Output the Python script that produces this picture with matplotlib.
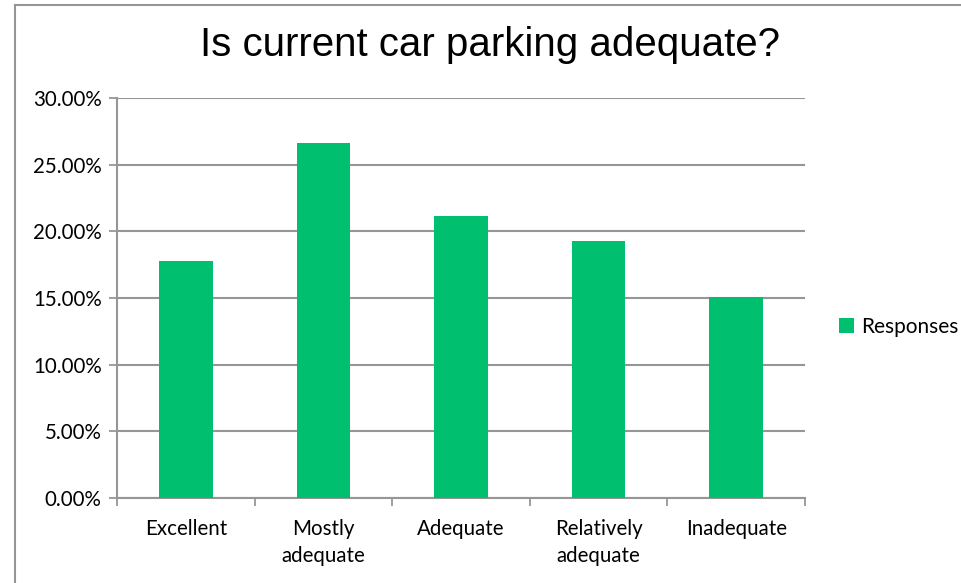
import matplotlib
matplotlib.use("Agg")
import matplotlib.pyplot as plt
from matplotlib.lines import Line2D
from matplotlib.ticker import FuncFormatter

# Survey data
categories = ["Excellent", "Mostly\nadequate", "Adequate", "Relatively\nadequate", "Inadequate"]
responses = [17.75, 26.6, 21.15, 19.3, 15.05]
series_name = "Responses"

bar_color = "#00BF6F"
grid_color = "#969696"

plt.rcParams['font.family'] = ['Lato', 'DejaVu Sans']

fig = plt.figure(figsize=(9.61, 5.83), dpi=100)
ax = fig.add_axes([0.1217, 0.1458, 0.716, 0.686])

x = range(len(categories))
ax.bar(x, responses, width=0.39, color=bar_color, label=series_name, zorder=3)

ax.set_xlim(-0.5, len(categories) - 0.5)
ax.set_ylim(0, 30)
ax.set_yticks([0, 5, 10, 15, 20, 25, 30])
ax.yaxis.set_major_formatter(FuncFormatter(lambda v, p: f"{v:.2f}%"))
ax.yaxis.grid(True, color=grid_color, linewidth=1.5, zorder=0)

ax.set_xticks(list(x))
ax.set_xticklabels(categories, fontsize=14.8, linespacing=1.45)
ax.set_xticks([i - 0.5 for i in range(len(categories) + 1)], minor=True)
ax.tick_params(axis='x', which='major', length=0, pad=15)
ax.tick_params(axis='x', which='minor', length=6, width=1.3, color=grid_color)
ax.tick_params(axis='y', length=6, width=1.3, color=grid_color, labelsize=14.8, pad=5)

for side in ['top', 'right']:
    ax.spines[side].set_visible(False)
for side in ['left', 'bottom']:
    ax.spines[side].set_color(grid_color)
    ax.spines[side].set_linewidth(1.5)

fig.text(0.51, 0.923, "Is current car parking adequate?", ha='center', va='center',
         fontsize=29, family=['Liberation Sans Narrow', 'Liberation Sans'])

fig.legend(loc='center left', bbox_to_anchor=(0.873, 0.439), frameon=False,
           fontsize=15, handlelength=0.7, handleheight=0.7, handletextpad=0.35,
           borderaxespad=0, borderpad=0)

# outer chart frame (left and top edges)
fig.add_artist(Line2D([0.0156, 0.0156], [0.0, 0.991], color=grid_color, linewidth=1.5))
fig.add_artist(Line2D([0.0156, 1.0], [0.991, 0.991], color=grid_color, linewidth=1.5))

fig.savefig("out.png", dpi=100)
